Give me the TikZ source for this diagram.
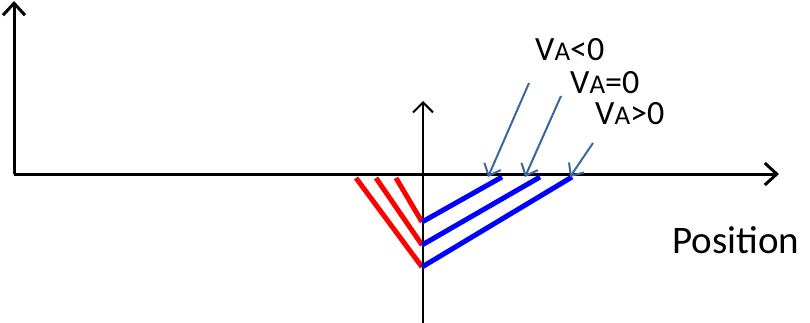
\documentclass[tikz,border=0pt]{standalone}
\usepackage{xcolor}
\usepackage{tikz}
\usepackage{fontspec}
\setmainfont{Carlito}
\usetikzlibrary{arrows.meta, positioning, calc}
\definecolor{callblue}{RGB}{58, 104, 158}
\definecolor{slopered}{RGB}{255, 0, 0}
\definecolor{slopeblue}{RGB}{0, 0, 255}

\tikzset{
    axis/.style={draw=black, line width=3pt, -{Straight Barb[length=12pt, width=22pt, line width=3pt]}},
    inneraxis/.style={draw=black, line width=2pt, -{Straight Barb[length=10pt, width=20pt, line width=2pt]}},
    redline/.style={draw=slopered, line width=5pt},
    blueline/.style={draw=slopeblue, line width=5pt},
    callout/.style={draw=callblue, line width=2pt, -{Straight Barb[length=10pt, width=18pt, line width=2pt]}},
    vlabel/.style={anchor=west, inner sep=0pt, text height=0.62em, text depth=0pt,
                   font=\fontsize{34}{37}\selectfont}
}

\begin{document}
\begin{tikzpicture}[x=1pt, y=-1pt]
    \useasboundingbox (0,0) rectangle (810,323);
    % axes
    \coordinate (origin) at (14,174);
    \coordinate (ytop) at (14,1);
    \coordinate (xend) at (779,174);
    \coordinate (ibot) at (423,323);
    \coordinate (itop) at (423,101);
    \draw[axis] (origin) -- (ytop);
    \draw[axis] (origin) -- (xend);
    \draw[inneraxis] (ibot) -- (itop);

    % red slopes
    \coordinate (r1) at (356,178);
    \coordinate (r2) at (376,178);
    \coordinate (r3) at (396,178);
    \coordinate (m1) at (422,267);
    \coordinate (m2) at (422,245);
    \coordinate (m3) at (422,222);
    \draw[redline] (r1) -- (m1);
    \draw[redline] (r2) -- (m2);
    \draw[redline] (r3) -- (m3);

    % blue slopes
    \coordinate (b1) at (572,177);
    \coordinate (b2) at (540,177);
    \coordinate (b3) at (502,177);
    \draw[blueline] (m1) -- (b1);
    \draw[blueline] (m2) -- (b2);
    \draw[blueline] (m3) -- (b3);

    % labels
    \node[vlabel] (vneg) at (535,57) {V{\fontsize{27}{30}\selectfont A}<0};
    \node[vlabel] (vzero) at (570,90) {V{\fontsize{27}{30}\selectfont A}=0};
    \node[vlabel] (vpos) at (595,121) {V{\fontsize{27}{30}\selectfont A}>0};
    \node[anchor=west, inner sep=0pt, font=\fontsize{39}{42}\selectfont] (pos) at (672,240) {Position};

    % callouts
    \coordinate (c1) at (529,83);
    \coordinate (c2) at (561,96);
    \coordinate (c3) at (593,143);
    \coordinate (t1) at (488,177);
    \coordinate (t2) at (525,177);
    \coordinate (t3) at (570,177);
    \draw[callout] (c1) -- (t1);
    \draw[callout] (c2) -- (t2);
    \draw[callout] (c3) -- (t3);
\end{tikzpicture}
\end{document}
